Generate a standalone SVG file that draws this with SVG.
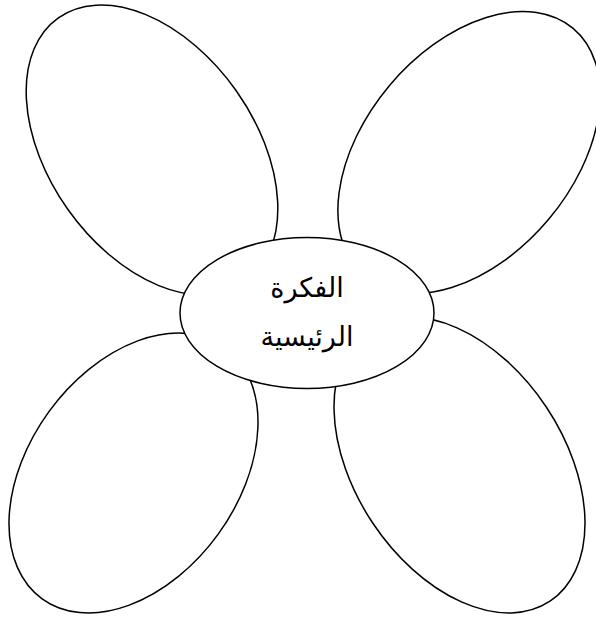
<svg xmlns="http://www.w3.org/2000/svg" width="596" height="619" viewBox="0 0 596 619">
<style>
.petal{fill:#fff;stroke:#000;stroke-width:1.5}
.center{fill:#fff;stroke:#000;stroke-width:1.5}
.lbl{font-family:"DejaVu Sans","Liberation Sans",sans-serif;font-size:27px;fill:#000;text-anchor:middle}
</style>
<rect width="596" height="619" fill="#fff"/>
<g id="petal-top-left"><ellipse class="petal" cx="152" cy="150" rx="162" ry="103" transform="rotate(54.7 152 150)"/></g>
<g id="petal-top-right"><ellipse class="petal" cx="469" cy="152.5" rx="162" ry="104" transform="rotate(-50 469 152.5)"/></g>
<g id="petal-bottom-left"><ellipse class="petal" cx="133.5" cy="473" rx="155.5" ry="104.5" transform="rotate(-54 133.5 473)"/></g>
<g id="petal-bottom-right"><ellipse class="petal" cx="459.5" cy="465" rx="163.5" ry="104.4" transform="rotate(56.4 459.5 465)"/></g>
<g id="connectors"></g>
<g id="center">
<ellipse class="center" cx="307" cy="313" rx="127" ry="75.5"/>
<text class="lbl" x="307" y="297" direction="rtl">الفكرة</text>
<text class="lbl" x="307" y="346" direction="rtl">الرئيسية</text>
</g>
</svg>
